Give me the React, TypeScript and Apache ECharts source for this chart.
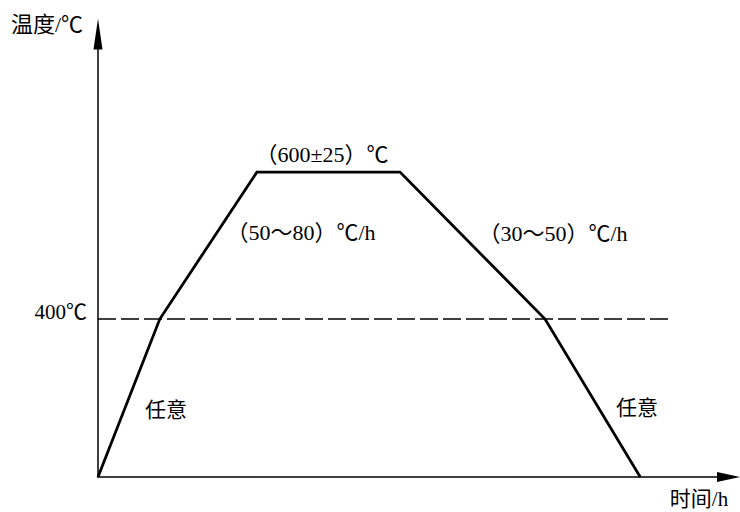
import React, { useEffect, useRef } from "react";
import * as echarts from "echarts";

// Heat-treatment profile: heat-up, soak, controlled cool, free cool.
const stageTimes = [0, 9.8, 25.2, 47.9, 70.9, 86];
const stageTemps = [185, 400, 600, 600, 400, 185];

// Reference temperature line (400 ℃) and its horizontal extent in time units.
const refTemp = 400;
const refSpan = [0, 91];

// Axis ranges (schematic: no tick values shown).
const timeRange = [0, 100];
const tempRange = [185, 788];

// Annotation texts.
const axisNames = { temp: "温度/℃", time: "时间/h" };
const refLabel = "400℃";
const soakLabel = "（600±25）℃";
const heatRateLabel = "（50～80）℃/h";
const coolRateLabel = "（30～50）℃/h";
const freeLabel = "任意";

const FONT_FAMILY = '"Liberation Serif", "Noto Sans CJK SC", serif';

function text(str: string, x: number, y: number, size = 21, align = "center") {
  return {
    type: "text",
    x,
    y,
    silent: true,
    style: {
      text: str,
      fill: "#000",
      font: `${size}px ${FONT_FAMILY}`,
      align,
      verticalAlign: "middle",
    },
  };
}

export default function App() {
  const ref = useRef<HTMLDivElement>(null);

  useEffect(() => {
    if (!ref.current) return;
    const chart = echarts.init(ref.current, undefined, { renderer: "svg" });

    const axisLine = (size: number[]) => ({
      show: true,
      symbol: ["none", "triangle"],
      symbolSize: size,
      lineStyle: { color: "#000", width: 1.5 },
    });

    chart.setOption({
      animation: false,
      backgroundColor: "#fff",
      grid: { left: 98, right: 11.5, top: 34, bottom: 35 },
      xAxis: {
        type: "value",
        min: timeRange[0],
        max: timeRange[1],
        axisLine: axisLine([10, 23]),
        axisTick: { show: false },
        axisLabel: { show: false },
        splitLine: { show: false },
      },
      yAxis: {
        type: "value",
        min: tempRange[0],
        max: tempRange[1],
        axisLine: axisLine([9, 31]),
        axisTick: { show: false },
        axisLabel: { show: false },
        splitLine: { show: false },
      },
      series: [
        {
          type: "line",
          data: refSpan.map((t) => [t, refTemp]),
          symbol: "none",
          clip: false,
          lineStyle: { color: "#000", width: 1.5, type: [18, 5] },
          z: 2,
        },
        {
          type: "line",
          data: stageTimes.map((t, i) => [t, stageTemps[i]]),
          symbol: "none",
          clip: false,
          lineStyle: { color: "#000", width: 2.8, join: "miter" },
          z: 3,
        },
      ],
      graphic: [
        text(axisNames.temp, 11, 24, 22, "left"),
        text(refLabel, 87, 312, 21, "right"),
        text(soakLabel, 322, 154, 22),
        text(heatRateLabel, 301, 232, 22),
        text(coolRateLabel, 553, 233, 22),
        text(freeLabel, 166, 410, 21),
        text(freeLabel, 637, 408, 21),
        text(axisNames.time, 699, 499, 21),
      ],
    });

    return () => chart.dispose();
  }, []);

  return (
    <div
      ref={ref}
      style={{ position: "fixed", left: 0, top: 0, width: 740, height: 512, background: "#fff" }}
    />
  );
}
